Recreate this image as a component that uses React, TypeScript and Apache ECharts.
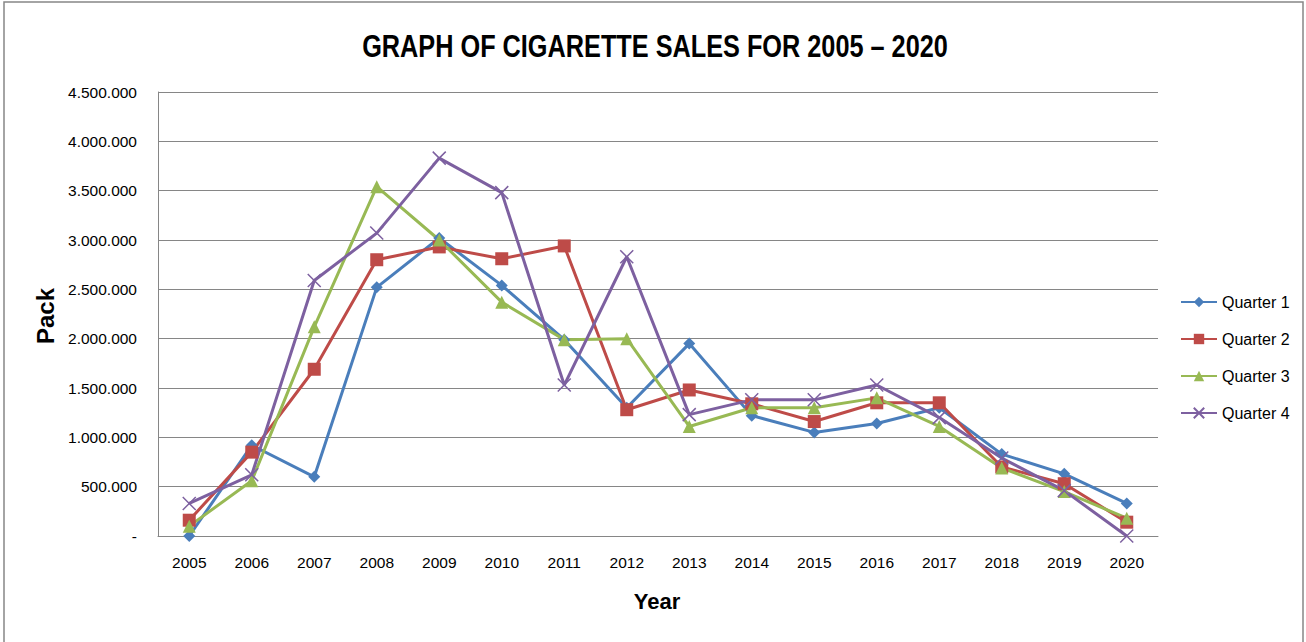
import React, { useEffect, useRef } from "react";
import * as echarts from "echarts";

const years = ["2005","2006","2007","2008","2009","2010","2011","2012","2013","2014","2015","2016","2017","2018","2019","2020"];
const quarter1 = [0, 920000, 600000, 2520000, 3020000, 2540000, 1990000, 1300000, 1950000, 1220000, 1050000, 1140000, 1300000, 830000, 630000, 330000];
const quarter2 = [160000, 850000, 1690000, 2800000, 2930000, 2810000, 2940000, 1280000, 1480000, 1340000, 1160000, 1350000, 1350000, 700000, 530000, 140000];
const quarter3 = [100000, 560000, 2120000, 3540000, 3000000, 2370000, 1990000, 2000000, 1110000, 1300000, 1300000, 1400000, 1110000, 690000, 450000, 180000];
const quarter4 = [330000, 620000, 2590000, 3070000, 3830000, 3480000, 1530000, 2830000, 1230000, 1380000, 1380000, 1530000, 1200000, 790000, 460000, 0];
const seriesNames = ["Quarter 1", "Quarter 2", "Quarter 3", "Quarter 4"];
const colors = ["#4A7EBB", "#BE4B48", "#98B954", "#7D60A0"];
const titleText = "GRAPH OF CIGARETTE SALES FOR 2005 – 2020";

const fmt = (v: number) => (v === 0 ? "-" : String(Math.round(v)).replace(/\B(?=(\d{3})+(?!\d))/g, "."));

export default function App() {
  const ref = useRef<HTMLDivElement>(null);
  useEffect(() => {
    if (!ref.current) return;
    const chart = echarts.init(ref.current, null, { renderer: "svg" });
    const data = [quarter1, quarter2, quarter3, quarter4];
    const symbols = ["diamond", "rect", "triangle", "path://M0,0L10,10M10,0L0,10"];
    const sizes = [12, 13, 13, 13];
    chart.setOption({
      animation: false,
      backgroundColor: "#ffffff",
      graphic: [
        { type: "rect", shape: { x: 4, y: 2, width: 1299, height: 660 }, style: { fill: "none", stroke: "#868686", lineWidth: 1.5 }, silent: true },
        { type: "text", x: 655, y: 46, scaleX: 0.79, style: { text: titleText, fontFamily: "'Liberation Sans', sans-serif", fontWeight: "bold", fontSize: 32, fill: "#000", align: "center", verticalAlign: "middle" } },
        { type: "text", x: 45, y: 316, rotation: Math.PI / 2, style: { text: "Pack", fontFamily: "'Liberation Sans', sans-serif", fontWeight: "bold", fontSize: 24, fill: "#000", align: "center", verticalAlign: "middle" } },
        { type: "text", x: 657, y: 601, style: { text: "Year", fontFamily: "'Liberation Sans', sans-serif", fontWeight: "bold", fontSize: 22, fill: "#000", align: "center", verticalAlign: "middle" } },
      ],
      legend: {
        orient: "vertical",
        left: 1180,
        top: 294,
        padding: 0,
        itemWidth: 36,
        itemHeight: 13,
        itemGap: 21,
        textStyle: { fontFamily: "'Liberation Sans', sans-serif", fontSize: 16, color: "#000" },
        data: seriesNames,
      },
      grid: { left: 158, right: 148, top: 92, bottom: 106 },
      xAxis: {
        type: "category",
        data: years,
        boundaryGap: true,
        axisLine: { lineStyle: { color: "#868686", width: 1 } },
        axisTick: { show: false },
        axisLabel: { margin: 18, fontFamily: "'Liberation Sans', sans-serif", fontSize: 15.5, color: "#000" },
      },
      yAxis: {
        type: "value",
        min: 0,
        max: 4500000,
        interval: 500000,
        axisLine: { show: true, lineStyle: { color: "#868686", width: 1 } },
        axisTick: { show: false },
        splitLine: { lineStyle: { color: "#868686", width: 1 } },
        axisLabel: { margin: 21, formatter: fmt, fontFamily: "'Liberation Sans', sans-serif", fontSize: 15.5, color: "#000" },
      },
      series: data.map((d, i) => ({
        name: seriesNames[i],
        type: "line",
        data: d,
        symbol: symbols[i],
        symbolSize: sizes[i],
        showAllSymbol: true,
        lineStyle: { color: colors[i], width: 3 },
        itemStyle: i === 3 ? { color: colors[i], borderColor: colors[i], borderWidth: 1.5 } : { color: colors[i] },
        emphasis: { disabled: true },
      })),
    });
    return () => chart.dispose();
  }, []);
  return <div ref={ref} style={{ position: "absolute", left: 0, top: 0, width: 1306, height: 642 }} />;
}
